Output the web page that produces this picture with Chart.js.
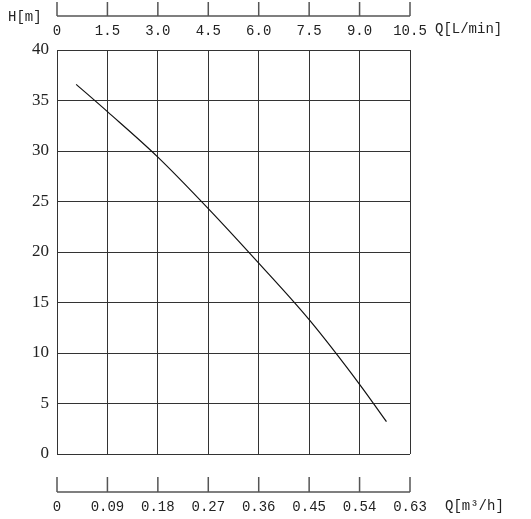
<!DOCTYPE html>
<html>
<head>
<meta charset="utf-8">
<script src="https://cdn.jsdelivr.net/npm/chart.js@4"></script>
<style>
  html, body { margin: 0; padding: 0; background: #fff; }
  canvas { display: block; }
</style>
</head>
<body>
<canvas id="pumpChart" width="531" height="519"></canvas>
<script>
// flow in L/min and head in m
var flowLmin = [0.57, 1.5, 3.0, 4.5, 6.0, 7.5, 9.0, 9.8];
var headM = [36.6, 33.9, 29.4, 24.3, 18.9, 13.3, 6.9, 3.2];
var lminTicks = [0, 1.5, 3.0, 4.5, 6.0, 7.5, 9.0, 10.5];
var m3hTicks = [0, 0.09, 0.18, 0.27, 0.36, 0.45, 0.54, 0.63];
var headTicks = [0, 5, 10, 15, 20, 25, 30, 35, 40];

var monoFont = { family: "'Liberation Mono', monospace", size: 14 };

// axes lines sit away from the plot, so draw them by hand from the scales
var detachedAxes = {
  id: 'detachedAxes',
  afterDraw: function (chart) {
    var ctx = chart.ctx;
    var area = chart.chartArea;
    var top = chart.scales.x;
    var bottom = chart.scales.x2;
    ctx.save();
    ctx.strokeStyle = '#555';
    ctx.lineWidth = 1.5;
    var yTop = area.top - 34;
    ctx.beginPath();
    ctx.moveTo(top.getPixelForValue(lminTicks[0]), yTop);
    ctx.lineTo(top.getPixelForValue(lminTicks[lminTicks.length - 1]), yTop);
    lminTicks.forEach(function (v) {
      var px = top.getPixelForValue(v);
      ctx.moveTo(px, yTop);
      ctx.lineTo(px, yTop - 14);
    });
    var yBot = area.bottom + 38;
    ctx.moveTo(bottom.getPixelForValue(m3hTicks[0]), yBot);
    ctx.lineTo(bottom.getPixelForValue(m3hTicks[m3hTicks.length - 1]), yBot);
    m3hTicks.forEach(function (v) {
      var px = bottom.getPixelForValue(v);
      ctx.moveTo(px, yBot);
      ctx.lineTo(px, yBot - 15);
    });
    ctx.stroke();

    ctx.fillStyle = '#222';
    ctx.font = "14px 'Liberation Mono', monospace";
    ctx.textBaseline = 'middle';
    ctx.textAlign = 'left';
    ctx.fillText('H[m]', 8, yTop + 1);
    ctx.fillText('Q[L/min]', area.right + 25, area.top - 21);
    ctx.fillText('Q[m³/h]', area.right + 35, area.bottom + 52);
    ctx.restore();
  }
};

var ctx = document.getElementById('pumpChart').getContext('2d');
var pumpChart = new Chart(ctx, {
  type: 'line',
  data: {
    datasets: [{
      label: 'H',
      data: flowLmin.map(function (q, i) { return { x: q, y: headM[i] }; }),
      borderColor: '#111',
      borderWidth: 1.2,
      pointRadius: 0,
      fill: false,
      cubicInterpolationMode: 'monotone',
      xAxisID: 'x',
      yAxisID: 'y'
    }]
  },
  options: {
    responsive: false,
    animation: false,
    devicePixelRatio: 1,
    layout: { padding: { left: 0, right: 121, top: 0, bottom: 0 } },
    plugins: { legend: { display: false }, tooltip: { enabled: false } },
    scales: {
      x: {
        type: 'linear',
        position: 'top',
        min: 0,
        max: 10.5,
        afterBuildTicks: function (s) { s.ticks = lminTicks.map(function (v) { return { value: v }; }); },
        afterFit: function (s) { s.height = 50; },
        border: { display: false },
        grid: { color: '#333', lineWidth: 1, drawTicks: false },
        ticks: {
          padding: 10,
          color: '#222',
          font: monoFont,
          maxRotation: 0,
          callback: function (v) { return v === 0 ? '0' : v.toFixed(1); }
        }
      },
      x2: {
        type: 'linear',
        position: 'bottom',
        min: 0,
        max: 0.63,
        afterBuildTicks: function (s) { s.ticks = m3hTicks.map(function (v) { return { value: v }; }); },
        afterFit: function (s) { s.height = 65; },
        border: { display: false },
        grid: { display: false, drawTicks: false },
        ticks: {
          padding: 45,
          color: '#222',
          font: monoFont,
          maxRotation: 0,
          callback: function (v) { return v === 0 ? '0' : v.toFixed(2); }
        }
      },
      y: {
        type: 'linear',
        min: 0,
        max: 40,
        afterBuildTicks: function (s) { s.ticks = headTicks.map(function (v) { return { value: v }; }); },
        afterFit: function (s) { s.width = 57; },
        border: { display: false },
        grid: { color: '#333', lineWidth: 1, drawTicks: false },
        ticks: {
          padding: 8,
          color: '#222',
          font: { family: "'Liberation Serif', serif", size: 17 }
        }
      }
    }
  },
  plugins: [detachedAxes]
});
</script>
</body>
</html>
